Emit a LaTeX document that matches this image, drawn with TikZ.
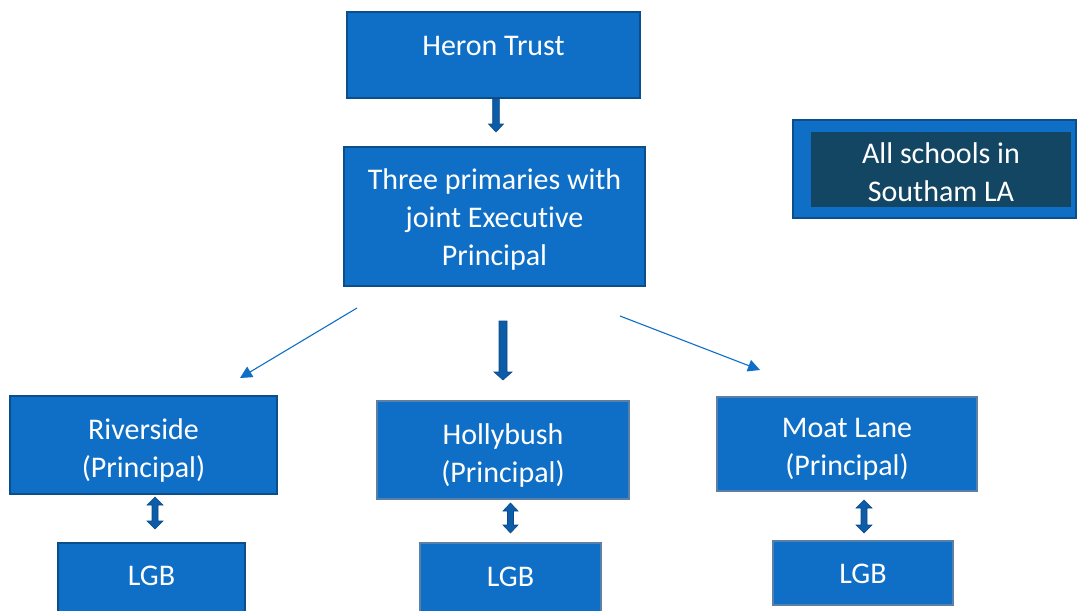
\documentclass[tikz,border=0pt]{standalone}
\usepackage{fontspec}
\setmainfont{Carlito}[Ligatures=NoCommon]
\usetikzlibrary{arrows.meta}
\definecolor{boxfill}{HTML}{0F6FC6}
\definecolor{boxline}{HTML}{0B4E8C}
\definecolor{boxgrey}{HTML}{5A80A8}
\definecolor{darkfill}{HTML}{124662}
\definecolor{arrowfill}{HTML}{0D5CA8}
\definecolor{arrowline}{HTML}{0A4A86}
\tikzset{
  x=1pt, y=-1pt,
  box/.style={draw=boxline, fill=boxfill, line width=1.6pt, inner sep=0pt, outer sep=0pt},
  greybox/.style={box, draw=boxgrey},
  darkbox/.style={fill=darkfill, inner sep=0pt, outer sep=0pt},
  label/.style={text=white, font=\fontsize{30}{38}\selectfont, align=center, inner sep=0pt},
  thin/.style={draw=boxfill, line width=1.1pt, -{Triangle[length=12pt,width=12pt]}},
  blockarrow/.style={fill=arrowfill, draw=arrowline, line width=0.6pt}
}
\newcommand{\downarrowblock}[5]{% x, y-top, y-bottom, shaft half, head half
  \filldraw[blockarrow] (#1-#4,#2) -- (#1+#4,#2) -- (#1+#4,#3-8) -- (#1+#5,#3-8)
    -- (#1,#3) -- (#1-#5,#3-8) -- (#1-#4,#3-8) -- cycle;}
\newcommand{\updownblock}[5]{% x, y-top, y-bottom, shaft half, head half
  \filldraw[blockarrow] (#1,#2) -- (#1+#5,#2+8) -- (#1+#4,#2+8) -- (#1+#4,#3-8)
    -- (#1+#5,#3-8) -- (#1,#3) -- (#1-#5,#3-8) -- (#1-#4,#3-8) -- (#1-#4,#2+8)
    -- (#1-#5,#2+8) -- cycle;}
\begin{document}
\begin{tikzpicture}
\useasboundingbox[fill=white] (0,0) rectangle (1078,610);

% top level
\node[box, minimum width=293pt, minimum height=86pt] (heron) at (493.5,55) {};
\node[label] (heronT) at (493.5,46) {Heron Trust};

\node[box, minimum width=301pt, minimum height=139pt] (three) at (494.5,216.5) {};
\node[label] (threeT) at (494.5,219.5) {Three primaries with\\joint Executive\\Principal};

% side box
\node[box, minimum width=283pt, minimum height=98pt] (la) at (934.5,169) {};
\node[darkbox, minimum width=260pt, minimum height=75pt] (laIn) at (941,169.5) {};
\node[label] (laT) at (941,172) {All schools in\\Southam LA};

% schools
\node[box, minimum width=267pt, minimum height=98pt] (river) at (143.5,445) {};
\node[label] (riverT) at (143.5,450) {Riverside\\(Principal)};

\node[greybox, minimum width=252pt, minimum height=98pt] (holly) at (503,450) {};
\node[label] (hollyT) at (503,455) {Hollybush\\(Principal)};

\node[greybox, minimum width=260pt, minimum height=94pt] (moat) at (847,444) {};
\node[label] (moatT) at (847,449.5) {Moat Lane\\(Principal)};

% local governing boards
\node[box, minimum width=187pt, minimum height=80pt] (lgbA) at (151.5,583) {};
\node[label] (lgbAT) at (151.5,576) {LGB};
\node[greybox, minimum width=181pt, minimum height=80pt] (lgbB) at (510.5,583) {};
\node[label] (lgbBT) at (510.5,577) {LGB};
\node[greybox, minimum width=180pt, minimum height=64pt] (lgbC) at (863,573) {};
\node[label] (lgbCT) at (863,574) {LGB};

% connectors
\coordinate (lstart) at (357,308);
\coordinate (lend) at (240,378);
\coordinate (rstart) at (620,316);
\coordinate (rend) at (760,370);
\draw[thin] (lstart) -- (lend);
\draw[thin] (rstart) -- (rend);

\downarrowblock{496}{99}{132}{3.3}{7.5}
\downarrowblock{503}{321}{380}{4}{9}
\updownblock{155}{497}{529}{3}{8}
\updownblock{510.5}{503}{533}{3}{7.5}
\updownblock{864}{500}{533}{3}{8}
\end{tikzpicture}
\end{document}
